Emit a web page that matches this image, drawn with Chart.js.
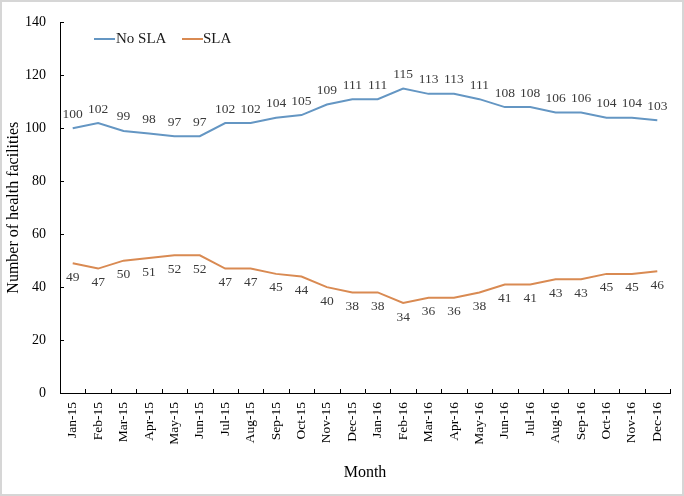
<!DOCTYPE html>
<html>
<head>
<meta charset="utf-8">
<script src="https://cdn.jsdelivr.net/npm/chart.js@4.4.1/dist/chart.umd.min.js"></script>
<style>
  html, body { margin: 0; padding: 0; background: #fff; }
  #wrap { width: 684px; height: 496px; }
</style>
</head>
<body>
<div id="wrap"><canvas id="lineChart" width="684" height="496"></canvas></div>
<script>
// Månader och värden
const months = ['Jan-15', 'Feb-15', 'Mar-15', 'Apr-15', 'May-15', 'Jun-15', 'Jul-15', 'Aug-15', 'Sep-15', 'Oct-15', 'Nov-15', 'Dec-15',
                'Jan-16', 'Feb-16', 'Mar-16', 'Apr-16', 'May-16', 'Jun-16', 'Jul-16', 'Aug-16', 'Sep-16', 'Oct-16', 'Nov-16', 'Dec-16'];
const noSla = [100, 102, 99, 98, 97, 97, 102, 102, 104, 105, 109, 111, 111, 115, 113, 113, 111, 108, 108, 106, 106, 104, 104, 103];
const sla = [49, 47, 50, 51, 52, 52, 47, 47, 45, 44, 40, 38, 38, 34, 36, 36, 38, 41, 41, 43, 43, 45, 45, 46];
const yTicks = [0, 20, 40, 60, 80, 100, 120, 140];

const serif = '"Liberation Serif", "Times New Roman", serif';

/**
 * Ritar datavärden, legend, inåtvända tickmarkeringar och ram.
 */
const extras = {
    id: 'extras',
    beforeDraw(chart) {
        const ctx = chart.ctx;
        ctx.save();
        ctx.fillStyle = '#fff';
        ctx.fillRect(0, 0, chart.width, chart.height);
        ctx.strokeStyle = '#d6d6d6';
        ctx.lineWidth = 2;
        ctx.strokeRect(1, 1, chart.width - 2, chart.height - 2);
        ctx.restore();
    },
    afterDraw(chart) {
        const ctx = chart.ctx;
        const x = chart.scales.x;
        const y = chart.scales.y;
        ctx.save();

        // Tickmarkeringar inåt
        ctx.strokeStyle = '#000';
        ctx.lineWidth = 1;
        ctx.beginPath();
        yTicks.forEach(v => {
            const py = Math.round(y.getPixelForValue(v)) + 0.5;
            ctx.moveTo(x.left, py);
            ctx.lineTo(x.left + 4, py);
        });
        const step = x.getPixelForValue(1) - x.getPixelForValue(0);
        for (let i = 0; i <= months.length; i++) {
            const px = Math.round(x.getPixelForValue(0) - step / 2 + i * step) + 0.5;
            ctx.moveTo(px, y.bottom);
            ctx.lineTo(px, y.bottom - 4);
        }
        ctx.stroke();

        // Datavärden
        ctx.font = '13.5px ' + serif;
        ctx.fillStyle = '#3a3a3a';
        ctx.textAlign = 'center';
        ctx.textBaseline = 'middle';
        chart.data.datasets.forEach((ds, di) => {
            const meta = chart.getDatasetMeta(di);
            meta.data.forEach((pt, i) => {
                const dy = di === 0 ? -14 : 14;
                ctx.fillText(ds.data[i], pt.x, pt.y + dy);
            });
        });

        // Legend
        ctx.font = '15px ' + serif;
        ctx.fillStyle = '#1a1a1a';
        ctx.textAlign = 'left';
        const items = [[94, 116], [182, 203]];
        chart.data.datasets.forEach((ds, di) => {
            const [lx, tx] = items[di];
            ctx.strokeStyle = ds.borderColor;
            ctx.lineWidth = 2;
            ctx.beginPath();
            ctx.moveTo(lx, 39);
            ctx.lineTo(lx + 21, 39);
            ctx.stroke();
            ctx.fillText(ds.label, tx, 39);
        });
        ctx.restore();
    }
};

new Chart(document.getElementById('lineChart'), {
    type: 'line',
    data: {
        labels: months,
        datasets: [
            { label: 'No SLA', data: noSla, borderColor: '#6496c3', borderWidth: 2, pointRadius: 0, tension: 0 },
            { label: 'SLA', data: sla, borderColor: '#d98a52', borderWidth: 2, pointRadius: 0, tension: 0 }
        ]
    },
    options: {
        responsive: false,
        animation: false,
        layout: { padding: { left: 0, right: 14, top: 19, bottom: 0 } },
        plugins: { legend: { display: false }, tooltip: { enabled: false } },
        scales: {
            x: {
                offset: true,
                grid: { display: true, drawOnChartArea: false, drawTicks: false },
                border: { display: true, color: '#000', width: 1 },
                ticks: { color: '#000', font: { family: serif, size: 13.5 }, minRotation: 90, maxRotation: 90, padding: 9, autoSkip: false },
                title: { display: true, text: 'Month', color: '#000', font: { family: serif, size: 16 }, padding: { top: 4, bottom: 14 } },
                afterFit(scale) { scale.height = 103; }
            },
            y: {
                min: 0,
                max: 140,
                afterBuildTicks(scale) { scale.ticks = yTicks.map(v => ({ value: v })); },
                grid: { display: true, drawOnChartArea: false, drawTicks: false },
                border: { display: true, color: '#000', width: 1 },
                ticks: { color: '#000', font: { family: serif, size: 14 }, padding: 14 },
                title: { display: true, text: 'Number of health facilities', color: '#000', font: { family: serif, size: 16 }, padding: { top: 4, bottom: 4 } },
                afterFit(scale) { scale.width = 60; }
            }
        }
    },
    plugins: [extras]
});
</script>
</body>
</html>
